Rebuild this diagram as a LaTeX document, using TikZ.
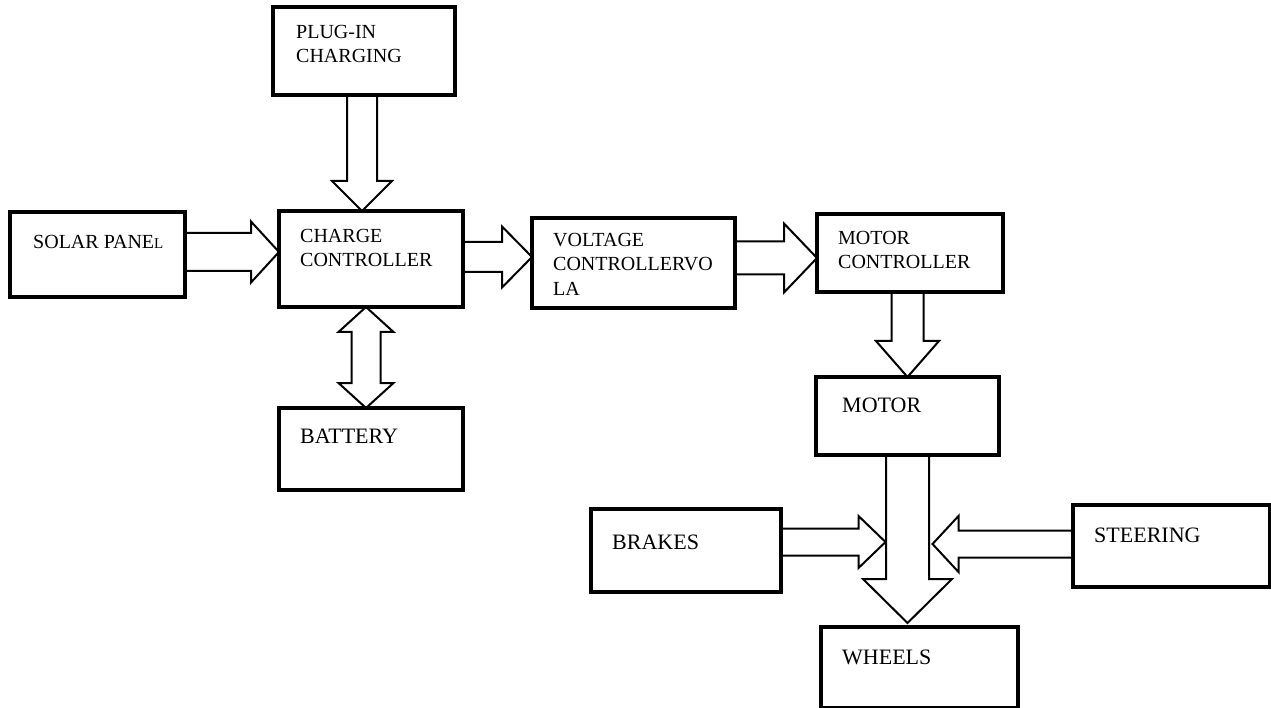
\documentclass[tikz,border=0pt]{standalone}
\usepackage{fontspec}
\setmainfont{Liberation Serif}
\usetikzlibrary{positioning,calc,backgrounds}

% hollow block arrows: start, tip, shaft half width, head half width, head length
\newcommand{\hblock}[5]{%
  \draw[fat] ($(#1|-#2)+(0,#3)$) -- ($(#2)+({-1*(#5)},#3)$) -- ($(#2)+({-1*(#5)},#4)$) -- (#2)
    -- ($(#2)+({-1*(#5)},-#4)$) -- ($(#2)+({-1*(#5)},-#3)$) -- ($(#1|-#2)+(0,-#3)$) -- cycle;}
\newcommand{\vblock}[5]{%
  \draw[fat] ($(#1-|#2)+(#3,0)$) -- ($(#2)+(#3,-#5)$) -- ($(#2)+(#4,-#5)$) -- (#2)
    -- ($(#2)+(-#4,-#5)$) -- ($(#2)+(-#3,-#5)$) -- ($(#1-|#2)+(-#3,0)$) -- cycle;}

\begin{document}
\begin{tikzpicture}[x=1pt,y=-1pt,
    blk/.style 2 args={draw,line width=3.3pt,minimum width=#1pt,minimum height=#2pt,
      inner sep=0pt,outer sep=0pt},
    tx/.style={anchor=north west,inner sep=0pt,align=left,
      font=\fontsize{20}{24.5}\selectfont},
    txl/.style={tx,font=\fontsize{22}{27}\selectfont},
    fat/.style={draw,fill=white,line width=2pt,line join=miter}]

  \useasboundingbox (0,0) rectangle (1271,708);

  \node[blk={175}{85},
    label={[tx,xshift=23pt,yshift=-23pt]north west:{SOLAR PANE{\fontsize{15}{15}\selectfont L}}}]
    (solar) at (97.5,254.5) {};
  \node[blk={184}{96},right=94pt of solar,yshift=-4.5pt,
    label={[tx,xshift=21pt,yshift=-18pt]north west:{CHARGE\\CONTROLLER}}] (charge) {};
  \node[blk={182}{88},above=116pt of charge,xshift=-7pt,
    label={[tx,xshift=23pt,yshift=-18pt]north west:{PLUG-IN\\CHARGING}}] (plug) {};
  \node[blk={184}{82},below=101pt of charge,
    label={[txl,xshift=21pt,yshift=-21pt]north west:{BATTERY}}] (battery) {};
  \node[blk={203}{90},right=69pt of charge,yshift=-4pt,
    label={[tx,xshift=21pt,yshift=-15pt]north west:{VOLTAGE\\CONTROLLERVO\\LA}}] (volt) {};
  \node[blk={186}{78},right=82pt of volt,yshift=10pt,
    label={[tx,xshift=21pt,yshift=-17pt]north west:{MOTOR\\CONTROLLER}}] (mctrl) {};
  \node[blk={183}{78},below=85pt of mctrl,xshift=-2.5pt,
    label={[txl,xshift=26pt,yshift=-21pt]north west:{MOTOR}}] (motor) {};
  \node[blk={197}{81},below=172pt of motor,xshift=12pt,
    label={[txl,xshift=21pt,yshift=-23pt]north west:{WHEELS}}] (wheels) {};
  \node[blk={190}{83},
    label={[txl,xshift=21pt,yshift=-26pt]north west:{BRAKES}}] (brakes) at (686,550.5) {};
  \node[blk={197}{82},
    label={[txl,xshift=21pt,yshift=-23pt]north west:{STEERING}}] (steering) at (1171.5,546) {};

  \coordinate (cin) at ($(charge.west)+(0,-7)$);
  \coordinate (vin) at ($(volt.west)+(0,-6)$);
  \coordinate (min) at ($(mctrl.west)+(0,5)$);
  \coordinate (cup) at ($(charge.north)+(-9,0)$);
  \coordinate (wtop) at ($(motor.south|-wheels.north)+(0,-4)$);
  \coordinate (bin) at ($(motor.south)+(-22,87)$);
  \coordinate (sin) at ($(motor.south)+(25,89)$);
  \coordinate (bt1) at ($(charge.south)+(-5,0)$);
  \coordinate (bt2) at ($(battery.north)+(-5,0)$);

  \begin{scope}[on background layer]
    \hblock{solar.east}{cin}{19}{30.5}{28}
    \hblock{charge.east}{vin}{15}{30.5}{30}
    \hblock{volt.east}{min}{16.5}{34.5}{33}
    \vblock{plug.south}{cup}{15}{30}{30}
    \vblock{mctrl.south}{motor.north}{16}{31.5}{36}
    \vblock{motor.south}{wtop}{21.5}{44.5}{44}
    \hblock{brakes.east}{bin}{13.5}{26}{27}
    \hblock{steering.west}{sin}{13.5}{28}{-26}
    \draw[fat] (bt1) -- ++(27.5,25) -- ++(-13,0) -- ($(bt2)+(14.5,-25)$) -- ++(13,0) -- (bt2)
      -- ++(-27.5,-25) -- ++(13,0) -- ($(bt1)+(-14.5,25)$) -- ++(-13,0) -- cycle;
  \end{scope}

\end{tikzpicture}
\end{document}
